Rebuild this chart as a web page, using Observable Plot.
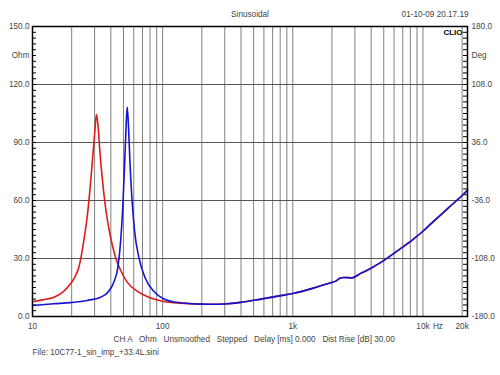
<!DOCTYPE html>
<html><head><meta charset="utf-8">
<script src="https://cdn.jsdelivr.net/npm/d3@7"></script>
<script src="https://cdn.jsdelivr.net/npm/@observablehq/plot@0.6"></script>
<style>
html,body{margin:0;padding:0;background:#fff;}
#chart svg text{white-space:pre;}
</style></head><body><div id="chart"></div>
<script>
// Red impedance curve (low-frequency part)
const redFreq = [10, 12, 14.6, 17, 19.6, 21.2, 22.7, 24.8, 26.3, 27.9, 29.3, 30.3, 31.0, 31.8, 32.9, 34.3, 36.4, 39.3, 43.4, 47.6, 53.4, 63.8, 80.8, 102, 137];
const redOhm  = [7.6, 8.6, 10.0, 12.5, 16.9, 20.5, 25.5, 39.3, 51.4, 68.6, 85.9, 97.9, 104.5, 99.6, 85.9, 72.0, 56.5, 42.8, 30.7, 23.8, 17.8, 13.1, 9.6, 7.8, 6.9];
// Blue impedance curve (low-frequency part)
const blueFreq = [10, 14.6, 19.6, 26.3, 33.4, 38.6, 42.2, 45.3, 47.6, 49.4, 50.9, 52.1, 53.4, 54.7, 56, 58, 60.8, 65.6, 73.9, 85.8, 102, 137];
const blueOhm  = [5.7, 6.6, 7.2, 8.3, 10.0, 13.1, 17.8, 25.5, 39.3, 56.5, 77.2, 94.5, 108.3, 97.9, 80.7, 61.7, 44.5, 30.7, 19.5, 12.9, 9.1, 7.1];
// Shared high-frequency tail (both curves overlap)
const tailFreq = [196, 250, 296, 397, 568, 809, 1020, 1460, 1960, 2140, 2300, 2470, 2860, 3320, 3730, 4750, 6400, 8500, 10000, 11500, 15400, 20000, 22000];
const tailOhm  = [6.4, 6.3, 6.5, 7.3, 9.0, 10.8, 12.0, 14.8, 17.5, 18.3, 19.8, 20.2, 20.0, 22.3, 23.9, 28.0, 34.1, 40.2, 44.1, 47.9, 55.7, 62.6, 65.3];

// Axes / labels
const gridFreqs = [20,30,40,50,60,70,80,90,100,200,300,400,500,600,700,800,900,1000,2000,3000,4000,5000,6000,7000,8000,9000,10000,20000];
const gridOhms = [30, 60, 90, 120];
const ohmLabels = [0, 30, 60, 90, 120, 150];
const degLabels = [-180, -108, -36, 36, 108, 180];
const freqLabels = [10, 100, 1000, 10000, 20000];
const freqText = ["10", "100", "1k", "10k", "20k"];
const minorOhms = d3.range(3, 150, 3);
const unitLeft = "Ohm", unitRight = "Deg", unitPos = 135;
const title = "Sinusoidal";
const stamp = "01-10-09 20.17.19";
const brand = "CLIO";
const info = "CH A   Ohm   Unsmoothed   Stepped   Delay [ms] 0.000   Dist Rise [dB] 30.00";
const fileLine = "File: 10C77-1_sin_imp_+33.4L.sini";

const red = redFreq.concat(tailFreq).map((f, i) => ({f, z: redOhm.concat(tailOhm)[i]}));
const blue = blueFreq.concat(tailFreq).map((f, i) => ({f, z: blueOhm.concat(tailOhm)[i]}));

const font = '"Liberation Sans",Arial,Helvetica,sans-serif';
const tc = "#444";
const W = 500, H = 375, mL = 32, mR = 33, mT = 26, mB = 59;
const frameW = W - mL - mR;

const chart = Plot.plot({
  width: W, height: H,
  marginLeft: mL, marginRight: mR, marginTop: mT, marginBottom: mB,
  style: {fontFamily: font, fontSize: "8.2px", background: "#fff"},
  x: {type: "log", domain: [10, 22000], axis: null},
  y: {domain: [0, 150], axis: null},
  marks: [
    Plot.ruleX(gridFreqs, {x: d => d, stroke: "#808080", strokeWidth: 1}),
    Plot.ruleY(gridOhms, {y: d => d, stroke: "#555", strokeWidth: 1}),
    Plot.tickY(minorOhms, {y: d => d, insetRight: frameW - 4, stroke: "#000"}),
    Plot.tickY(minorOhms, {y: d => d, insetLeft: frameW - 4, stroke: "#000"}),
    Plot.line(red, {x: "f", y: "z", stroke: "#dd1c1c", strokeWidth: 1.6, curve: "monotone-x"}),
    Plot.line(blue, {x: "f", y: "z", stroke: "#1414d2", strokeWidth: 1.6, curve: "monotone-x"}),
    Plot.frame({stroke: "#000", strokeWidth: 1.5}),
    Plot.text(ohmLabels, {y: d => d, text: d => d.toFixed(1), frameAnchor: "left", textAnchor: "end", lineAnchor: "middle", dx: -3, fill: tc}),
    Plot.text([unitLeft], {y: () => unitPos, text: d => d, frameAnchor: "left", textAnchor: "end", lineAnchor: "middle", dx: -3, fill: tc}),
    Plot.text(degLabels, {y: d => (d + 180) / 360 * 150, text: d => d.toFixed(1), frameAnchor: "right", textAnchor: "start", lineAnchor: "middle", dx: 4, fill: tc}),
    Plot.text([unitRight], {y: () => unitPos, text: d => d, frameAnchor: "right", textAnchor: "start", lineAnchor: "middle", dx: 4, fill: tc}),
    Plot.text(freqLabels, {x: d => d, text: (d, i) => freqText[i], frameAnchor: "bottom", textAnchor: "middle", lineAnchor: "middle", dy: 10, fill: tc}),
    Plot.text(["Hz"], {x: () => 10000, text: d => d, frameAnchor: "bottom", textAnchor: "middle", lineAnchor: "middle", dx: 15, dy: 10, fill: tc}),
    Plot.text([title], {text: d => d, frameAnchor: "top", textAnchor: "middle", lineAnchor: "middle", dy: -12, fill: tc}),
    Plot.text([stamp], {text: d => d, frameAnchor: "top-right", textAnchor: "end", lineAnchor: "middle", dx: 1, dy: -12, fill: tc}),
    Plot.text([brand], {text: d => d, frameAnchor: "top-right", textAnchor: "end", lineAnchor: "middle", dx: -5, dy: 6, fill: "#000", fontWeight: "bold", fontSize: 8}),
    Plot.text([info], {text: d => d, frameAnchor: "bottom-left", textAnchor: "start", lineAnchor: "middle", dx: 81, dy: 23, fill: tc}),
    Plot.text([fileLine], {text: d => d, frameAnchor: "bottom-left", textAnchor: "start", lineAnchor: "middle", dx: 0, dy: 36, fill: tc})
  ]
});
document.getElementById("chart").appendChild(chart);
</script></body></html>
